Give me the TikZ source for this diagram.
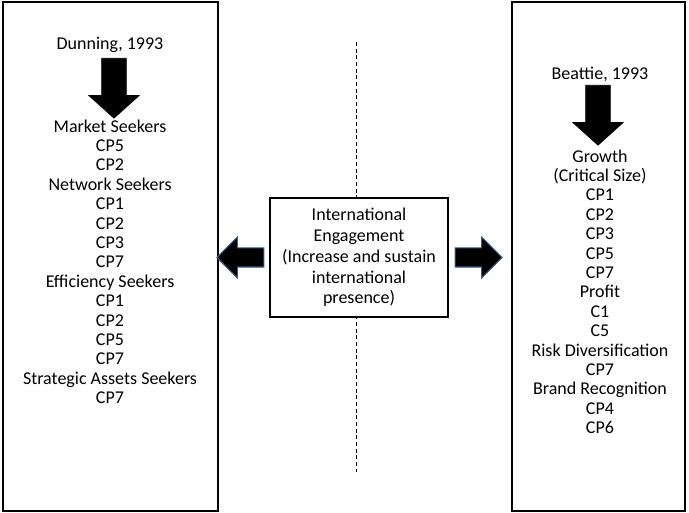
\documentclass[tikz,border=0pt]{standalone}
\usepackage{fontspec}
\setmainfont{Carlito}
\usetikzlibrary{shapes.arrows}

\tikzset{
  panel/.style={rectangle, draw=black, line width=1.1pt, fill=white, inner sep=0pt},
  listtext/.style={align=center, inner sep=0pt, font=\fontsize{13.5}{14.55}\selectfont},
  downarrow/.style={single arrow, fill=black, draw=black, line width=0.4pt,
    shape border rotate=270, inner sep=9pt, single arrow head extend=9.75pt,
    single arrow tip angle=96, minimum height=45pt},
  sidearrow/.style={single arrow, fill=black, draw=arrowblue, line width=0.8pt,
    inner sep=6.75pt, single arrow head extend=8.25pt, minimum height=35.25pt},
  divider/.style={densely dashed, line width=0.5pt, black}
}
\definecolor{arrowblue}{HTML}{385D8A}

\begin{document}
\begin{tikzpicture}[x=0.75pt, y=-0.75pt]
    \useasboundingbox (0,0) rectangle (689,513);

    % side panels
    \node[panel, minimum width=161.25pt, minimum height=381.75pt] (leftpanel) at (110.5,256.5) {};
    \node[panel, minimum width=129.75pt, minimum height=381.75pt] (rightpanel) at (598.5,256.5) {};

    % dashed divider
    \coordinate (dtop) at (356,42);
    \coordinate (dbot) at (356,472);
    \draw[divider] (dtop) -- (dbot);

    % centre box
    \node[panel, line width=1pt, minimum width=133.5pt, minimum height=89.25pt,
          align=center, font=\fontsize{13.5}{15.56}\selectfont] (engage) at (359,257.5)
          {International\\Engagement\\(Increase and sustain\\international\\presence)};

    % Dunning side (base = last line)
    \node[listtext, anchor=base] (dunning) at (110,50) {Dunning, 1993};
    \node[downarrow, anchor=tail] (dunarrow) at (114,58) {};
    \node[listtext, anchor=base] (dunlist) at (110,403.6) {Market Seekers\\CP5\\CP2\\Network Seekers\\CP1\\CP2\\CP3\\CP7\\Efficiency Seekers\\CP1\\CP2\\CP5\\CP7\\Strategic Assets Seekers\\CP7};

    % Beattie side
    \node[listtext, anchor=base] (beattie) at (600,80) {Beattie, 1993};
    \node[downarrow, anchor=tail] (beaarrow) at (598,85) {};
    \node[listtext, anchor=base] (bealist) at (600,433.6) {Growth\\(Critical Size)\\CP1\\CP2\\CP3\\CP5\\CP7\\Profit\\C1\\C5\\Risk Diversification\\CP7\\Brand Recognition\\CP4\\CP6};

    % block arrows out of the centre box
    \node[sidearrow, shape border rotate=180, anchor=tail] (toleft) at ([xshift=-3.75pt]engage.west) {};
    \node[sidearrow, anchor=tail] (toright) at ([xshift=4.5pt]engage.east) {};
\end{tikzpicture}
\end{document}
